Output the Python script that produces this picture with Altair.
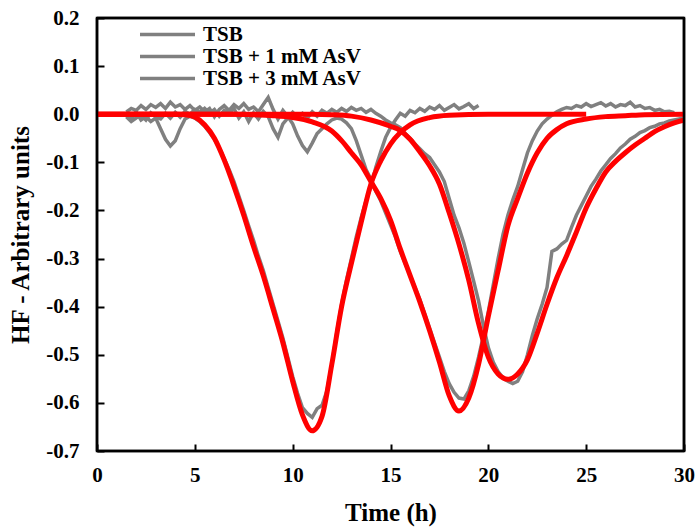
import altair as alt
import pandas as pd

SERIES = ["TSB", "TSB + 1 mM AsV", "TSB + 3 mM AsV"]
GRAY = "#808080"
RED = "#ff0000"
FONT = "Liberation Serif"

# measurement time grid (h)
GRAY_T = [
    1.5, 1.75,
    2.0, 2.25, 2.5, 2.75, 3.0, 3.25, 3.5, 3.75, 4.0, 4.25, 4.5, 4.75,
    5.0, 5.25, 5.5, 5.75, 6.0, 6.25, 6.5, 6.75, 7.0, 7.25, 7.5, 7.75,
    8.0, 8.25, 8.5, 8.75, 9.0, 9.25, 9.5, 9.75, 10.0, 10.25, 10.5, 10.75,
    11.0, 11.25, 11.5, 11.75, 12.0, 12.25, 12.5, 12.75, 13.0, 13.25, 13.5, 13.75,
    14.0, 14.25, 14.5, 14.75, 15.0, 15.25, 15.5, 15.75, 16.0, 16.25, 16.5, 16.75,
    17.0, 17.25, 17.5, 17.75, 18.0, 18.25, 18.5, 18.75, 19.0, 19.25, 19.5, 19.75,
    20.0, 20.25, 20.5, 20.75, 21.0, 21.25, 21.5, 21.75, 22.0, 22.25, 22.5, 22.75,
    23.0, 23.25, 23.5, 23.75, 24.0, 24.25, 24.5, 24.75, 25.0, 25.25, 25.5, 25.75,
    26.0, 26.25, 26.5, 26.75, 27.0, 27.25, 27.5, 27.75, 28.0, 28.25, 28.5, 28.75,
    29.0, 29.25, 29.5, 29.75, 30.0,
]

# measured heat flow, TSB (ends at 19.5 h)
TSB_RAW = [
    0.000, -0.010,
    0.005, -0.012, -0.005, -0.015, -0.008, -0.030, -0.052, -0.066, -0.055, -0.030, -0.010, -0.004,
    -0.008, -0.015, -0.025, -0.038, -0.052, -0.070, -0.092, -0.115, -0.140, -0.170, -0.200, -0.232,
    -0.262, -0.295, -0.325, -0.360, -0.395, -0.430, -0.465, -0.505, -0.545, -0.580, -0.610, -0.622,
    -0.630, -0.612, -0.605, -0.575, -0.520, -0.455, -0.395, -0.345, -0.300, -0.255, -0.215, -0.180,
    -0.150, -0.110, -0.078, -0.048, -0.028, -0.012, 0.002, -0.004, 0.008, 0.003, 0.012, 0.006,
    0.015, 0.010, 0.018, 0.008, 0.014, 0.020, 0.011, 0.016, 0.022, 0.012, 0.018,
]

# measured heat flow, TSB + 1 mM AsV (ends at 29.5 h)
TSB1_RAW = [
    0.005, 0.012,
    0.008, 0.018, 0.010, 0.020, 0.014, 0.022, 0.012, 0.025, 0.015, 0.020, 0.010, 0.018,
    0.008, 0.015, 0.005, 0.012, -0.005, 0.010, 0.018, 0.008, 0.020, 0.012, 0.022, 0.010,
    0.015, 0.005, 0.020, 0.035, 0.010, -0.010, 0.008, -0.005, -0.020, -0.045, -0.065, -0.078,
    -0.060, -0.040, -0.030, -0.020, -0.012, -0.008, -0.010, -0.018, -0.030, -0.055, -0.085, -0.115,
    -0.135, -0.160, -0.180, -0.205, -0.230, -0.255, -0.285, -0.310, -0.335, -0.360, -0.385, -0.415,
    -0.445, -0.475, -0.505, -0.535, -0.560, -0.578, -0.590, -0.592, -0.575, -0.545, -0.505, -0.460,
    -0.410, -0.355, -0.300, -0.250, -0.210, -0.178, -0.150, -0.115, -0.080, -0.055, -0.035, -0.020,
    -0.010, -0.002, 0.005, 0.010, 0.014, 0.012, 0.018, 0.015, 0.022, 0.016, 0.020, 0.024,
    0.017, 0.022, 0.015, 0.020, 0.018, 0.025, 0.015, 0.018, 0.012, 0.014, 0.008, 0.010,
    0.005, 0.006, 0.003,
]

# measured heat flow, TSB + 3 mM AsV
TSB3_RAW = [
    -0.005, -0.015,
    -0.008, -0.002, -0.012, 0.003, -0.006, -0.010, 0.002, -0.008, 0.004, -0.006, 0.006, 0.000,
    0.010, 0.004, 0.012, 0.002, 0.010, -0.004, 0.008, 0.002, 0.012, -0.008, 0.005, -0.015,
    0.003, -0.010, 0.006, -0.005, -0.030, -0.048, -0.020, -0.008, 0.004, -0.006, 0.002, -0.008,
    0.005, -0.004, 0.008, 0.002, 0.010, 0.004, 0.012, 0.006, 0.014, 0.008, 0.012, 0.004,
    0.010, 0.002, -0.004, -0.012, -0.018, -0.022, -0.028, -0.040, -0.050, -0.062, -0.072, -0.082,
    -0.090, -0.105, -0.120, -0.140, -0.175, -0.210, -0.236, -0.268, -0.307, -0.347, -0.388, -0.440,
    -0.485, -0.515, -0.535, -0.548, -0.555, -0.560, -0.555, -0.535, -0.500, -0.460, -0.425, -0.395,
    -0.360, -0.285, -0.280, -0.270, -0.262, -0.235, -0.210, -0.190, -0.170, -0.150, -0.135, -0.118,
    -0.105, -0.092, -0.082, -0.070, -0.062, -0.052, -0.046, -0.038, -0.034, -0.028, -0.025, -0.020,
    -0.018, -0.014, -0.012, -0.010, -0.008,
]

# fitted curves (red)
FIT1_T = [0.0, 4.0, 4.5, 5.0, 5.5, 6.0, 6.5, 7.0, 7.5, 8.0, 8.5, 9.0, 9.5, 10.0, 10.5, 11.0,
          11.5, 12.0, 12.5, 13.0, 13.5, 14.0, 14.5, 15.0, 15.5, 16.0, 17.0, 18.0, 20.0, 25.0]
FIT1_V = [0.0, 0.0, -0.001, -0.006, -0.022, -0.050, -0.095, -0.150, -0.210, -0.275, -0.336, -0.405,
          -0.475, -0.555, -0.625, -0.658, -0.628, -0.520, -0.400, -0.310, -0.225, -0.145, -0.097,
          -0.062, -0.038, -0.022, -0.007, -0.002, 0.0, 0.0]

FIT2_T = [0.0, 7.0, 8.0, 9.0, 10.0, 11.0, 12.0, 12.5, 13.0, 13.5, 14.0, 14.5, 15.0, 15.5, 16.0,
          16.5, 17.0, 17.5, 18.0, 18.5, 19.0, 19.5, 20.0, 20.5, 21.0, 21.5, 22.0, 22.5, 23.0,
          23.5, 24.0, 25.0, 26.0, 27.0, 28.0, 30.0]
FIT2_V = [0.0, 0.0, -0.001, -0.003, -0.007, -0.016, -0.035, -0.055, -0.080, -0.105, -0.140, -0.175,
          -0.220, -0.280, -0.335, -0.390, -0.450, -0.515, -0.585, -0.617, -0.590, -0.520, -0.420,
          -0.325, -0.232, -0.175, -0.122, -0.080, -0.050, -0.032, -0.020, -0.010, -0.005, -0.003,
          -0.001, 0.0]

FIT3_T = [0.0, 11.0, 12.0, 13.0, 14.0, 15.0, 15.5, 16.0, 16.5, 17.0, 17.5, 18.0, 18.5, 19.0, 19.5,
          20.0, 20.5, 21.0, 21.5, 22.0, 22.5, 23.0, 23.5, 24.0, 24.5, 25.0, 25.5, 26.0, 26.5,
          27.0, 27.5, 28.0, 28.5, 29.0, 29.5, 30.0]
FIT3_V = [0.0, 0.0, -0.001, -0.004, -0.012, -0.025, -0.034, -0.052, -0.078, -0.107, -0.145, -0.205,
          -0.270, -0.345, -0.435, -0.505, -0.540, -0.551, -0.540, -0.510, -0.455, -0.395, -0.340,
          -0.294, -0.245, -0.195, -0.155, -0.120, -0.098, -0.080, -0.064, -0.050, -0.036, -0.026,
          -0.018, -0.012]

X_DOMAIN = [0, 30]
Y_DOMAIN = [-0.7, 0.2]
X_TICKS = [0, 5, 10, 15, 20, 25, 30]
Y_TICKS = [-0.7, -0.65, -0.6, -0.55, -0.5, -0.45, -0.4, -0.35, -0.3, -0.25, -0.2, -0.15,
           -0.1, -0.05, 0.0, 0.05, 0.1, 0.15, 0.2]

rows = []
for name, vals in zip(SERIES, [TSB_RAW, TSB1_RAW, TSB3_RAW]):
    for t, v in zip(GRAY_T, vals):
        rows.append({"t": t, "v": v, "series": name})
raw = pd.DataFrame(rows)

frows = []
for i, (ts, vs) in enumerate([(FIT1_T, FIT1_V), (FIT2_T, FIT2_V), (FIT3_T, FIT3_V)]):
    for t, v in zip(ts, vs):
        frows.append({"t": t, "v": v, "fit": f"fit{i + 1}"})
fits = pd.DataFrame(frows)

# plot frame edges, in data units (the domain corners)
x0, x1 = X_DOMAIN
y0, y1 = Y_DOMAIN
frame = pd.DataFrame([
    {"a": x0, "a2": x1, "b": y0, "b2": y0},
    {"a": x0, "a2": x1, "b": y1, "b2": y1},
    {"a": x0, "a2": x0, "b": y0, "b2": y1},
    {"a": x1, "a2": x1, "b": y0, "b2": y1},
])

x_scale = alt.Scale(domain=X_DOMAIN, nice=False)
y_scale = alt.Scale(domain=Y_DOMAIN, nice=False, zero=False)

x_axis = alt.Axis(
    values=X_TICKS, title="Time (h)", offset=-7, tickSize=7, tickWidth=2, tickColor="black",
    domain=False, grid=False, labelPadding=13, labelFontSize=21, labelFont=FONT,
    labelFontWeight="bold", labelColor="black", titleFont=FONT, titleFontSize=25,
    titleFontWeight="bold", titleColor="black", titlePadding=15, labelFlush=False,
    format="d",
)
y_axis = alt.Axis(
    values=Y_TICKS, title="HF - Arbitrary units", offset=-7, tickSize=7, tickWidth=2,
    tickColor="black", domain=False, grid=False, labelPadding=18, labelFontSize=21,
    labelFont=FONT, labelFontWeight="bold", labelColor="black", titleFont=FONT,
    titleFontSize=25, titleFontWeight="bold", titleColor="black", titlePadding=12,
    labelFlush=False,
    labelExpr="abs(datum.value*10 - round(datum.value*10)) < 0.001 ? "
              "replace(format(datum.value, '.1f'), '\u2212', '-') : ''",
)

raw_layer = alt.Chart(raw).mark_line(strokeWidth=3.5).encode(
    x=alt.X("t:Q", scale=x_scale, axis=x_axis),
    y=alt.Y("v:Q", scale=y_scale, axis=y_axis),
    color=alt.Color(
        "series:N",
        scale=alt.Scale(domain=SERIES, range=[GRAY, GRAY, GRAY]),
        sort=SERIES,
        legend=alt.Legend(
            title=None, orient="none", legendX=82, legendY=6, symbolType="M-9,0H1",
            symbolSize=121, symbolStrokeWidth=3.5, labelFont=FONT, labelFontSize=21,
            labelFontWeight="bold", labelColor="black", labelOffset=3, rowPadding=0,
            padding=0,
        ),
    ),
    order="t:Q",
)

fit_layer = alt.Chart(fits).mark_line(strokeWidth=5, color=RED, interpolate="monotone").encode(
    x=alt.X("t:Q", scale=x_scale),
    y=alt.Y("v:Q", scale=y_scale),
    detail="fit:N",
    order="t:Q",
)

frame_layer = alt.Chart(frame).mark_rule(color="black", strokeWidth=2.5).encode(
    x=alt.X("a:Q", scale=x_scale),
    x2="a2:Q",
    y=alt.Y("b:Q", scale=y_scale),
    y2="b2:Q",
)

chart = alt.layer(raw_layer, fit_layer, frame_layer).properties(
    width=587, height=433, autosize="none", background="white",
    padding={"left": 97, "top": 18, "right": 15, "bottom": 76},
).configure_view(stroke="black", strokeWidth=2.5)

chart.save("out.html", embed_options={"renderer": "svg", "actions": False})
